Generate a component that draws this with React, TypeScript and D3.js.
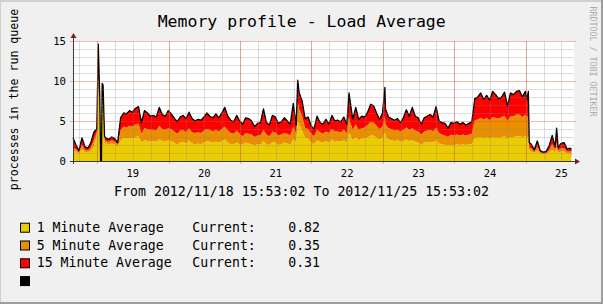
import React from "react";
import * as d3 from "d3";

// hours since 2012/11/18 15:53:02
const hours = [
  0, 1, 2, 3, 4, 5, 6, 7, 8, 8.5, 9, 9.3, 9.55, 9.8, 10.1, 10.6,
  11, 12, 13, 14, 15, 16, 17, 18, 19, 20, 21, 22, 23, 24, 25, 26, 27, 28, 29, 30,
  31, 32, 33, 34, 35, 36, 37, 38, 39, 40, 41, 42, 43, 44, 45, 46, 47, 48, 49, 50,
  51, 52, 53, 54, 55, 56, 57, 58, 59, 60, 61, 62, 63, 64, 65, 66, 67, 68, 69, 70,
  71, 72, 73, 74, 75, 75.5, 76, 77, 78, 79, 80, 81, 82, 83, 84, 85, 86, 87, 88, 89, 90, 91, 92,
  92.75, 93, 94, 95, 96, 97, 98, 99, 100, 101, 102, 103, 104, 104.8,
  105, 106, 107, 108, 109, 110, 111, 112, 113, 114, 115, 116, 117, 118, 119, 120, 121, 122, 123, 124,
  125, 126, 127, 128, 129, 130, 131, 132, 133, 134, 135, 136, 137, 138, 139, 140, 141, 142, 143, 144,
  145, 146, 147, 148, 149, 150, 151, 152, 152.5, 153, 153.3,
  154, 155, 156, 157, 158, 159, 160, 161, 162, 162.5, 163, 164, 165, 166, 167, 167.5,
];

const oneMinute = [
  1.3, 1.2, 0.9, 1.5, 1.1, 1.1, 1.3, 1.8, 3.2, 9, 5.5, 0, 0, 6, 6, 2.3,
  2.2, 2.1, 2.2, 2.1, 1.8, 2.6, 2.9, 2.8, 2.9, 2.8, 3.0, 3.1, 2.3, 2.6, 2.5, 2.4, 2.5, 2.4, 2.7, 2.5,
  2.4, 2.6, 2.5, 2.3, 2.0, 2.3, 2.4, 2.2, 2.6, 2.2, 2.1, 2.2, 2.1, 2.3, 2.5, 2.4, 2.3, 2.4, 2.3, 2.5,
  2.7, 2.3, 2.1, 2.1, 2.3, 2.1, 2.1, 2.3, 2.2, 2.1, 1.9, 2.1, 2.1, 2.5, 2.1, 2.0, 2.4, 2.3, 2.0, 2.1,
  2.3, 2.2, 2.0, 2.7, 2.4, 5.0, 4.5, 3.8, 2.9, 2.8, 2.3, 2.1, 2.6, 2.4, 2.3, 2.5, 2.3, 2.7, 2.4, 2.5, 2.4, 2.6, 2.3,
  3.5, 3.4, 2.6, 3.0, 2.6, 2.8, 2.8, 3.0, 3.2, 3.2, 2.9, 2.7, 2.9, 3.6,
  3.1, 2.7, 2.6, 2.5, 2.6, 2.4, 2.5, 2.7, 2.5, 2.6, 2.4, 2.3, 2.0, 2.3, 2.3, 2.4, 2.3, 2.6, 2.2, 2.1,
  2.0, 1.9, 2.0, 2.0, 2.1, 2.0, 2.1, 2.0, 2.1, 2.1, 2.9, 2.9, 3.0, 2.8, 3.0, 2.8, 3.0, 2.9, 2.9, 3.0,
  3.1, 2.8, 3.0, 3.0, 3.1, 3.1, 3.0, 3.1, 2.9, 3.1, 1.3,
  1.2, 1.0, 1.3, 0.9, 0.8, 0.8, 1.1, 1.4, 1.1, 1.5, 1.0, 1.2, 1.2, 0.9, 0.9, 0.82,
];

const fiveMinute = [
  0.3, 0.3, 0.2, 0.5, 0.3, 0.2, 0.4, 0.8, 0.4, 3, 1.5, 0, 0, 2, 2, 0.4,
  0.3, 0.3, 0.4, 0.3, 0.3, 1.2, 1.4, 1.4, 1.5, 1.5, 1.6, 1.6, 1.1, 1.5, 1.5, 1.5, 1.4, 1.4, 1.7, 1.5,
  1.5, 1.5, 1.5, 1.4, 1.4, 1.5, 1.5, 1.4, 1.5, 1.4, 1.4, 1.4, 1.4, 1.5, 1.5, 1.5, 1.4, 1.5, 1.4, 1.5,
  1.6, 1.5, 1.4, 1.3, 1.5, 1.3, 1.0, 1.2, 1.2, 1.2, 1.1, 1.1, 1.1, 1.4, 1.2, 1.1, 1.3, 1.3, 1.2, 1.2,
  1.2, 1.2, 1.2, 1.6, 1.0, 2.5, 2.0, 1.8, 1.2, 1.2, 1.1, 1.0, 1.3, 1.2, 1.1, 1.2, 1.2, 1.3, 1.3, 1.2, 1.2, 1.3, 1.2,
  2.0, 1.6, 1.3, 1.6, 1.3, 1.3, 1.4, 1.5, 1.7, 1.6, 1.5, 1.3, 1.4, 2.0,
  1.5, 1.4, 1.4, 1.3, 1.3, 1.3, 1.4, 1.5, 1.4, 1.5, 1.4, 1.4, 1.3, 1.4, 1.5, 1.5, 1.4, 1.6, 1.3, 1.2,
  1.2, 1.1, 1.3, 1.2, 1.2, 1.2, 1.2, 1.2, 1.2, 1.3, 2.2, 2.3, 2.4, 2.4, 2.4, 2.3, 2.5, 2.5, 2.4, 2.5,
  2.6, 2.2, 2.6, 2.6, 2.7, 2.7, 2.5, 2.7, 2.5, 2.7, 0.4,
  0.4, 0.2, 0.5, 0.2, 0.2, 0.2, 0.3, 0.7, 0.3, 0.9, 0.3, 0.4, 0.4, 0.3, 0.3, 0.35,
];

const fifteenMinute = [
  1.3, 0.5, 0.2, 0.9, 0.4, 0.3, 0.6, 1.0, 0.4, 2.6, 0.9, 0, 0, 1.7, 1.5, 0.4,
  0.4, 0.3, 0.4, 0.4, 0.2, 1.6, 1.7, 1.7, 1.9, 1.8, 2.0, 2.1, 1.4, 2.2, 2.0, 1.7, 1.8, 1.7, 2.3, 1.8,
  1.7, 2.2, 1.9, 1.7, 1.5, 1.7, 1.8, 1.7, 2.0, 1.7, 1.5, 1.6, 1.6, 1.7, 2.0, 1.7, 1.7, 2.0, 1.7, 2.0,
  2.4, 1.8, 1.6, 1.5, 1.9, 1.6, 1.5, 1.9, 1.9, 1.7, 1.3, 1.5, 1.6, 2.6, 1.5, 1.4, 2.0, 1.9, 1.5, 1.6,
  1.9, 1.6, 1.4, 2.9, 1.1, 2.6, 2.0, 1.9, 1.2, 1.5, 1.0, 0.9, 1.7, 1.2, 1.2, 1.5, 1.1, 1.7, 1.3, 1.4, 1.3, 1.6, 1.1,
  3.0, 2.8, 1.3, 2.1, 1.3, 1.5, 1.3, 1.6, 2.2, 2.1, 1.6, 1.2, 1.7, 3.6,
  1.9, 1.4, 1.3, 1.3, 1.4, 1.1, 1.5, 2.2, 1.7, 2.6, 1.8, 1.7, 1.3, 1.7, 1.8, 1.9, 1.8, 2.6, 1.5, 1.5,
  1.5, 1.1, 1.5, 1.5, 1.6, 1.4, 1.5, 1.3, 1.4, 1.5, 2.7, 2.8, 3.1, 2.5, 2.8, 2.5, 3.2, 2.9, 2.5, 2.5,
  2.9, 1.9, 2.9, 2.7, 2.9, 3.0, 2.5, 2.9, 2.2, 2.9, 0.6,
  0.5, 0.2, 0.7, 0.2, 0.1, 0.2, 0.5, 1.1, 0.4, 1.7, 0.4, 0.6, 0.7, 0.3, 0.4, 0.31,
];

const legendLabels = ["1 Minute Average", "5 Minute Average", "15 Minute Average", ""];
const currentValues = ["0.82", "0.35", "0.31"];
const seriesColors = ["#EACC00", "#EA8F00", "#FF0000", "#000000"];
const yTicks = [0, 5, 10, 15];
const yMinor = [1, 2, 3, 4, 6, 7, 8, 9, 11, 12, 13, 14];
const title = "Memory profile - Load Average";
const yTitle = "processes in the run queue";
const rangeText = "From 2012/11/18 15:53:02 To 2012/11/25 15:53:02";
const watermark = "RRDTOOL / TOBI OETIKER";

const W = 603;
const H = 304;
const FONT = "'DejaVu Sans Mono', monospace";
const start = new Date(2012, 10, 18, 15, 53, 2);
const end = new Date(2012, 10, 25, 15, 53, 2);

export default function App() {
  const x = d3.scaleTime().domain([start, end]).range([73, 573]);
  const y = d3.scaleLinear().domain([0, 15]).range([161, 41]);

  const data = hours.map((h, i) => ({
    t: new Date(start.getTime() + h * 3600000),
    a: oneMinute[i],
    b: fiveMinute[i],
    c: fifteenMinute[i],
  }));
  const stacked = d3.stack<any>().keys(["a", "b", "c"])(data);
  const area = d3
    .area<any>()
    .x((d) => x(d.data.t))
    .y0((d) => y(d[0]))
    .y1((d) => y(d[1]));
  const line = d3
    .line<any>()
    .x((d) => x(d.t))
    .y((d) => y(d.a + d.b + d.c))
    .curve(d3.curveLinear);

  const minorTimes = d3.timeHour.every(6)!.range(start, end);
  const majorTimes = d3.timeDay.range(start, end);
  const labelTimes = d3.timeDay
    .range(d3.timeDay.floor(start), end)
    .map((d) => ({ day: d, noon: d3.timeHour.offset(d, 12) }))
    .filter((d) => d.noon >= start && d.noon <= end);
  const fmtDay = d3.timeFormat("%d");
  const px = (v: number) => Math.round(v) + 0.5;

  const legendY = [231.7, 249.5, 267.3, 285.1];

  return (
    <div style={{ position: "absolute", left: 0, top: 0 }}>
      <svg width={W} height={H} style={{ display: "block" }}>
        <rect x={0} y={0} width={W} height={H} fill="#F0F0F0" />
        {/* shade border */}
        <rect x={0} y={0} width={W} height={2} fill="#CFCFCF" />
        <rect x={0} y={0} width={1} height={H} fill="#CFCFCF" />
        <rect x={0} y={H - 2} width={W} height={2} fill="#9E9E9E" />
        <rect x={W - 2} y={0} width={2} height={H} fill="#9E9E9E" />

        {/* canvas */}
        <rect x={73} y={41} width={501} height={120} fill="#FFFFFF" />

        {/* stacked areas */}
        {stacked.map((s, i) => (
          <path key={i} d={area(s as any) || ""} fill={seriesColors[i]} />
        ))}
        {/* total line */}
        <path d={line(data) || ""} fill="none" stroke="#000" strokeWidth={1.3} strokeLinejoin="round" />

        {/* minor grid */}
        {yMinor.map((v) => (
          <line key={"hy" + v} x1={73} x2={574} y1={px(y(v))} y2={px(y(v))} stroke="rgba(128,128,128,0.27)" />
        ))}
        {minorTimes.map((t, i) => (
          <line key={"vx" + i} x1={px(x(t))} x2={px(x(t))} y1={41} y2={161} stroke="rgba(128,128,128,0.27)" />
        ))}
        {/* major grid */}
        {yTicks.map((v) => (
          <line key={"HY" + v} x1={70} x2={576} y1={px(y(v))} y2={px(y(v))} stroke="rgba(222,80,48,0.38)" />
        ))}
        {majorTimes.map((t, i) => (
          <line key={"VX" + i} x1={px(x(t))} x2={px(x(t))} y1={41} y2={164} stroke="rgba(222,80,48,0.38)" />
        ))}

        {/* axes */}
        <line x1={70} x2={576} y1={161.5} y2={161.5} stroke="#3a3a3a" />
        <line x1={73.5} x2={73.5} y1={164} y2={37} stroke="#3a3a3a" />
        <path d="M575,158.5 L580,161.5 L575,164.5 Z" fill="#7F1F1F" />
        <path d="M70.5,38 L73.5,33 L76.5,38 Z" fill="#7F1F1F" />

        {/* y tick labels */}
        {yTicks.map((v) => (
          <text key={"ty" + v} x={66} y={y(v) + 4} textAnchor="end" fontFamily={FONT} fontSize={10.6} fill="#000">
            {v}
          </text>
        ))}
        {/* x tick labels */}
        {labelTimes.map((d, i) => (
          <text key={"tx" + i} x={x(d.noon)} y={176.7} textAnchor="middle" fontFamily={FONT} fontSize={10.5} fill="#000">
            {fmtDay(d.day)}
          </text>
        ))}

        {/* title */}
        <text x={301.7} y={26.5} textAnchor="middle" fontFamily={FONT} fontSize={16.5} fill="#000">
          {title}
        </text>
        {/* y axis title */}
        <text
          transform="translate(17.5,99.5) rotate(-90)"
          textAnchor="middle"
          fontFamily={FONT}
          fontSize={11.6}
          fill="#000"
        >
          {yTitle}
        </text>
        {/* watermark */}
        <text
          transform="translate(590.3,61.5) rotate(90)"
          textAnchor="middle"
          fontFamily={FONT}
          fontSize={8.3}
          fill="#ACACAC"
        >
          {watermark}
        </text>
        {/* range text */}
        <text x={301.5} y={196} textAnchor="middle" fontFamily={FONT} fontSize={13.25} fill="#000">
          {rangeText}
        </text>

        {/* legend */}
        {legendLabels.map((lab, i) => (
          <g key={"lg" + i}>
            <rect x={20.5} y={legendY[i] - 8.5} width={9} height={9} fill={seriesColors[i]} stroke="#000" strokeWidth={1} />
            {lab && (
              <text x={36.7} y={legendY[i]} fontFamily={FONT} fontSize={13.2} fill="#000">
                {lab}
              </text>
            )}
            {i < currentValues.length && (
              <>
                <text x={192.3} y={legendY[i]} fontFamily={FONT} fontSize={13.2} fill="#000">
                  Current:
                </text>
                <text x={320} y={legendY[i]} textAnchor="end" fontFamily={FONT} fontSize={13.2} fill="#000">
                  {currentValues[i]}
                </text>
              </>
            )}
          </g>
        ))}
      </svg>
    </div>
  );
}
